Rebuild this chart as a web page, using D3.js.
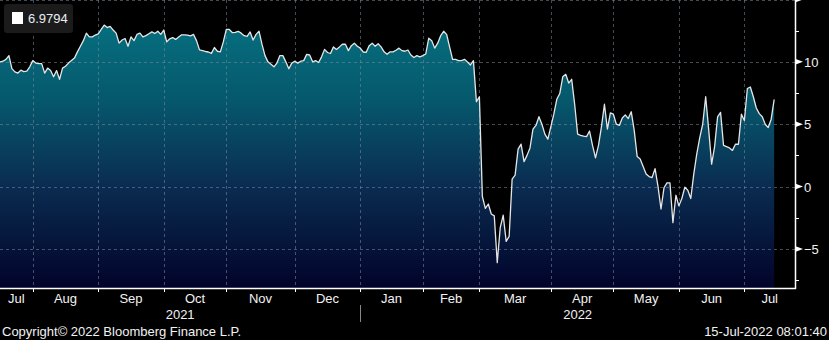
<!DOCTYPE html>
<html>
<head>
<meta charset="utf-8">
<script src="https://cdn.jsdelivr.net/npm/d3@7"></script>
<style>
  html, body { margin: 0; padding: 0; background: #000; }
  svg { display: block; }
  text { font-family: "Liberation Sans", Arial, sans-serif; }
</style>
</head>
<body>
<div id="chart"></div>
<script>
// one value per trading day, mid-Jul 2021 .. 15-Jul-2022
const values = [
  10.0, 10.05, 10.2, 10.5, 9.46, 9.2, 9.1, 9.33, 9.22, 9.25,
  9.6, 10.1, 9.9, 9.86, 9.86, 9.1, 9.5, 9.3, 8.8, 9.3,
  8.6, 9.5, 9.65, 9.9, 10.1, 10.3, 10.8, 11.25, 11.7, 12.3,
  12.0, 12.0, 12.15, 12.25, 12.6, 12.95, 12.75, 12.85, 12.55, 12.3,
  11.5, 11.75, 11.87, 11.25, 12.0, 11.7, 12.2, 12.3, 12.0, 12.1,
  12.25, 12.4, 12.27, 12.45, 12.2, 12.55, 11.6, 11.85, 11.95, 11.8,
  12.0, 12.17, 12.17, 12.15, 12.08, 12.2, 11.7, 10.96, 10.9, 10.83,
  10.79, 10.68, 11.15, 10.85, 10.8, 11.6, 12.6, 12.6, 12.35, 12.37,
  12.45, 12.3, 12.1, 12.05, 12.4, 11.75, 12.2, 12.45, 11.4, 10.5,
  10.0, 9.8, 9.6, 9.9, 10.5, 10.5, 10.0, 9.45, 9.9, 10.05,
  9.9, 10.05, 10.1, 10.6, 10.55, 10.0, 10.1, 9.95, 10.4, 11.0,
  10.75, 10.67, 11.2, 11.0, 11.2, 11.41, 11.41, 10.9, 11.3, 11.5,
  11.25, 11.1, 10.79, 10.77, 11.3, 11.5, 11.25, 11.45, 11.2, 10.8,
  10.6, 10.8, 10.8, 10.93, 11.1, 10.9, 10.85, 10.95, 10.55, 10.35,
  10.5, 10.4, 10.5, 10.63, 11.9, 11.7, 11.1, 11.5, 12.1, 12.45,
  12.2, 11.2, 10.2, 10.2, 10.1, 10.1, 10.2, 9.99, 9.75, 10.1,
  6.8, 7.2, -0.8, -1.75, -1.4, -2.2, -2.35, -6.1, -3.3, -2.3,
  -4.4, -4.0, 0.6, 0.91, 3.0, 3.4, 2.0, 2.5, 3.1, 4.6,
  4.9, 5.6, 5.0, 4.2, 3.8, 4.8, 5.8, 7.0, 7.46, 8.8,
  9.0, 8.3, 8.6, 6.6, 4.2, 4.11, 4.05, 4.0, 4.45, 3.3,
  2.3, 3.3, 4.8, 6.6, 4.6, 5.9, 5.8, 5.0, 4.9, 5.5,
  5.75, 5.45, 6.0, 4.5, 2.4, 2.2, 1.6, 1.0, 0.8, 0.72,
  1.44, 0.0, -1.8, -0.1, 0.3, 0.3, -2.9, -0.7, -1.55, -0.96,
  -0.05, -0.3, -0.96, 1.0, 2.6, 3.9, 5.0, 7.2, 4.6, 1.8,
  3.2, 5.58, 5.95, 3.3, 3.2, 3.1, 2.9, 3.39, 3.39, 5.8,
  5.3, 7.86, 7.98, 7.2, 6.3, 5.85, 5.6, 5.0, 4.73, 5.4,
  6.9794
];
const lastLabel = "6.9794";

// month boundaries in trading-day index (first trading day of each month)
const monthLabels = ["Jul", "Aug", "Sep", "Oct", "Nov", "Dec", "Jan", "Feb", "Mar", "Apr", "May", "Jun", "Jul"];
const monthStarts = [11, 33, 55, 76, 99, 121, 142, 161, 185, 206, 228, 250];
const yearLabels = ["2021", "2022"];
const yearStart = 121; // first trading day of 2022
const yTicksMajor = [15, 10, 5, 0, -5];
const yTicksMinor = [12.5, 7.5, 2.5, -2.5, -7.5];
const copyright = "Copyright\u00a9 2022 Bloomberg Finance L.P.";
const stamp = "15-Jul-2022 08:01:40";

const W = 829, H = 340;
const plot = {left: 0, right: 795, top: -0.5, bottom: 286.3};
const axisY = 288;

const svg = d3.select("#chart").append("svg")
    .attr("width", W)
    .attr("height", H);

svg.append("rect").attr("width", W).attr("height", H).attr("fill", "#000");

const nDays = 267;
const x = d3.scaleLinear().domain([0, nDays]).range([plot.left, plot.right]);
const y = d3.scaleLinear().domain([-8, 15]).range([plot.bottom, plot.top]);

// gradient for area fill
const defs = svg.append("defs");
const grad = defs.append("linearGradient")
    .attr("id", "areaGrad")
    .attr("gradientUnits", "userSpaceOnUse")
    .attr("x1", 0).attr("x2", 0)
    .attr("y1", 20).attr("y2", axisY);
grad.append("stop").attr("offset", "0%").attr("stop-color", "#057080");
grad.append("stop").attr("offset", "30%").attr("stop-color", "#06586c");
grad.append("stop").attr("offset", "62%").attr("stop-color", "#0a2c50");
grad.append("stop").attr("offset", "100%").attr("stop-color", "#02032a");

const area = d3.area()
    .x((d, i) => x(i))
    .y0(axisY)
    .y1(d => y(d));

const line = d3.line()
    .x((d, i) => x(i))
    .y(d => y(d));

svg.append("path")
    .datum(values)
    .attr("d", area)
    .attr("fill", "url(#areaGrad)");

// grid lines (dotted) drawn over the fill
const grid = svg.append("g").attr("class", "grid");
grid.selectAll(".hgrid")
    .data(yTicksMajor)
    .join("line")
    .attr("class", "hgrid")
    .attr("x1", plot.left).attr("x2", plot.right)
    .attr("y1", d => Math.round(y(d)) + 0.5).attr("y2", d => Math.round(y(d)) + 0.5)
    .attr("stroke", "#7a8a9a")
    .attr("stroke-opacity", 0.55)
    .attr("stroke-dasharray", "3,3");
grid.selectAll(".vgrid")
    .data(monthStarts)
    .join("line")
    .attr("class", "vgrid")
    .attr("x1", d => Math.round(x(d)) + 0.5).attr("x2", d => Math.round(x(d)) + 0.5)
    .attr("y1", 0).attr("y2", axisY)
    .attr("stroke", "#7a8a9a")
    .attr("stroke-opacity", 0.55)
    .attr("stroke-dasharray", "3,3");

svg.append("path")
    .datum(values)
    .attr("d", line)
    .attr("fill", "none")
    .attr("stroke", "#e6e6e6")
    .attr("stroke-width", 1.3)
    .attr("stroke-linejoin", "round");

// right axis
const ax = svg.append("g").attr("class", "yAxis");
ax.append("line")
    .attr("x1", plot.right + 0.5).attr("x2", plot.right + 0.5)
    .attr("y1", 0).attr("y2", axisY + 1)
    .attr("stroke", "#fff").attr("stroke-width", 1.5);
ax.selectAll(".minor")
    .data(yTicksMinor)
    .join("line")
    .attr("class", "minor")
    .attr("x1", plot.right).attr("x2", plot.right + 4)
    .attr("y1", d => Math.round(y(d)) + 0.5).attr("y2", d => Math.round(y(d)) + 0.5)
    .attr("stroke", "#fff");
ax.selectAll(".major")
    .data(yTicksMajor)
    .join("path")
    .attr("class", "major")
    .attr("d", d => {
        const yy = y(d);
        return `M${plot.right},${yy - 3}L${plot.right + 8},${yy}L${plot.right},${yy + 3}Z`;
    })
    .attr("fill", "#fff");
ax.selectAll(".ylab")
    .data(yTicksMajor.filter(d => d < 15))
    .join("text")
    .attr("class", "ylab")
    .attr("x", plot.right + 9)
    .attr("y", d => y(d) + 5)
    .attr("fill", "#f2f2f2")
    .attr("font-size", "13px")
    .text(d => d < 0 ? "\u2212" + Math.abs(d) : d);

// bottom axis
const bx = svg.append("g").attr("class", "xAxis");
bx.append("line")
    .attr("x1", 0).attr("x2", plot.right + 1)
    .attr("y1", axisY + 0.5).attr("y2", axisY + 0.5)
    .attr("stroke", "#fff").attr("stroke-width", 1.5);
bx.selectAll(".xtick")
    .data(monthStarts)
    .join("line")
    .attr("class", "xtick")
    .attr("x1", d => Math.round(x(d)) + 0.5).attr("x2", d => Math.round(x(d)) + 0.5)
    .attr("y1", axisY).attr("y2", axisY + 4)
    .attr("stroke", "#fff");

// month labels centred on the visible part of each month
const bounds = [0, ...monthStarts, nDays];
bx.selectAll(".xlab")
    .data(monthLabels)
    .join("text")
    .attr("class", "xlab")
    .attr("x", (d, i) => (x(bounds[i]) + x(bounds[i + 1])) / 2)
    .attr("y", 303)
    .attr("text-anchor", "middle")
    .attr("fill", "#f2f2f2")
    .attr("font-size", "13px")
    .text(d => d);

const yearBounds = [0, yearStart, nDays];
bx.selectAll(".yearlab")
    .data(yearLabels)
    .join("text")
    .attr("class", "yearlab")
    .attr("x", (d, i) => (x(yearBounds[i]) + x(yearBounds[i + 1])) / 2)
    .attr("y", 319)
    .attr("text-anchor", "middle")
    .attr("fill", "#f2f2f2")
    .attr("font-size", "13px")
    .text(d => d);
bx.append("line")
    .attr("x1", Math.round(x(yearStart)) + 0.5).attr("x2", Math.round(x(yearStart)) + 0.5)
    .attr("y1", 305).attr("y2", 322)
    .attr("stroke", "#888");

// legend box
const lg = svg.append("g").attr("class", "legend");
lg.append("rect")
    .attr("x", 4).attr("y", 4)
    .attr("width", 69).attr("height", 29)
    .attr("rx", 3)
    .attr("fill", "#1b1b1b");
lg.append("rect")
    .attr("x", 12).attr("y", 12)
    .attr("width", 11).attr("height", 12)
    .attr("fill", "#fff");
lg.append("text")
    .attr("x", 28).attr("y", 23)
    .attr("fill", "#e8eef4")
    .attr("font-size", "13px")
    .text(lastLabel);

// footer
svg.append("text")
    .attr("x", 2).attr("y", 336)
    .attr("fill", "#f2f2f2")
    .attr("font-size", "13px")
    .text(copyright);
svg.append("text")
    .attr("x", 827).attr("y", 336)
    .attr("text-anchor", "end")
    .attr("fill", "#f2f2f2")
    .attr("font-size", "13px")
    .text(stamp);
</script>
</body>
</html>
